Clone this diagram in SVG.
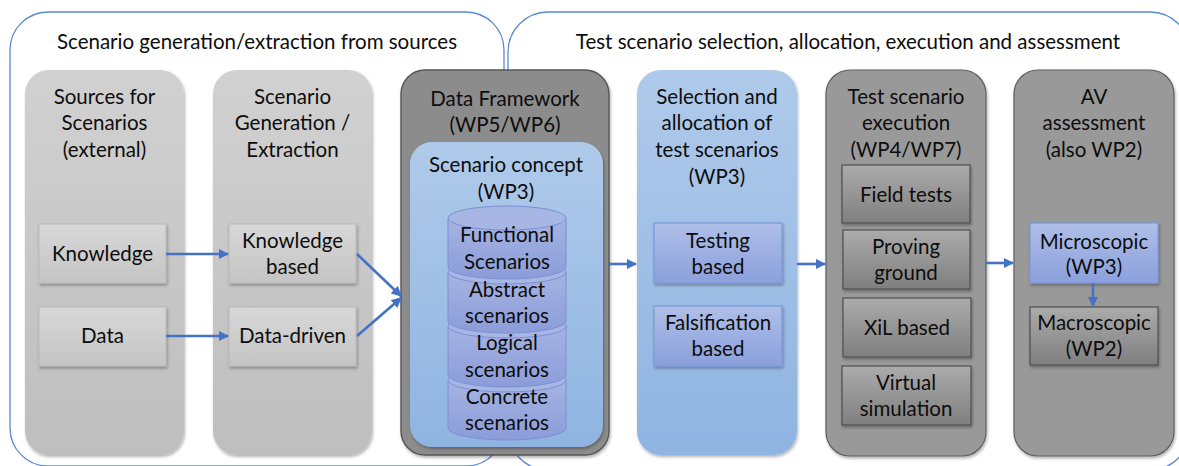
<svg xmlns="http://www.w3.org/2000/svg" width="1179" height="466" viewBox="0 0 1179 466">
<defs>
<linearGradient id="gLightCol" x1="0" y1="0" x2="0" y2="1"><stop offset="0" stop-color="#d1d1d1"/><stop offset="1" stop-color="#bebebe"/></linearGradient>
<linearGradient id="gLightBox" x1="0" y1="0" x2="0" y2="1"><stop offset="0" stop-color="#d8d8d8"/><stop offset="1" stop-color="#c4c4c4"/></linearGradient>
<linearGradient id="gDarkBox" x1="0" y1="0" x2="0" y2="1"><stop offset="0" stop-color="#ababab"/><stop offset="1" stop-color="#7f7f7f"/></linearGradient>
<linearGradient id="gBlueCol" x1="0" y1="0" x2="0" y2="1"><stop offset="0" stop-color="#afcaea"/><stop offset="1" stop-color="#8fb4e1"/></linearGradient>
<linearGradient id="gBlueBox" x1="0" y1="0" x2="0" y2="1"><stop offset="0" stop-color="#afbfe8"/><stop offset="1" stop-color="#8ba0dc"/></linearGradient>
<linearGradient id="gCyl" x1="0" y1="0" x2="0" y2="1"><stop offset="0" stop-color="#a6b4e2"/><stop offset="1" stop-color="#8b9cd9"/></linearGradient>
<filter id="sh" x="-10%" y="-10%" width="120%" height="120%"><feDropShadow dx="1" dy="2" stdDeviation="1.5" flood-color="#000" flood-opacity="0.3"/></filter>
<marker id="ah" viewBox="0 0 10 10" refX="9" refY="5" markerWidth="4" markerHeight="4" orient="auto" markerUnits="strokeWidth"><path d="M0,0 L10,5 L0,10 Z" fill="#4472c4"/></marker>
<style>
text{font-family:Lato,"Open Sans","Liberation Sans",sans-serif;font-size:20.5px;fill:#0d0d0d;text-anchor:middle}
.outer{fill:none;stroke:#5b8ad0;stroke-width:1.3}
.lcol{fill:url(#gLightCol);filter:url(#sh)}
.lbox{fill:url(#gLightBox);stroke:#bababa;stroke-width:1;filter:url(#sh)}
.dcol{fill:#999999;stroke:#5e5e5e;stroke-width:1.2;filter:url(#sh)}
.dbox{fill:url(#gDarkBox);stroke:#4f4f4f;stroke-width:1.2;filter:url(#sh)}
.bcol{fill:url(#gBlueCol);filter:url(#sh)}
.bbox{fill:url(#gBlueBox);stroke:#7a98dc;stroke-width:1.2;filter:url(#sh)}
.cyl{fill:url(#gCyl);stroke:#7b90d6;stroke-width:1}
.cyltop{fill:#a7b6e3;stroke:#7b90d6;stroke-width:1}
.conn{fill:none;stroke:#4472c4;stroke-width:2.6;marker-end:url(#ah)}
</style>
</defs>
<rect width="1179" height="466" fill="#ffffff"/>

<g id="group-left">
<rect class="outer" x="10" y="12" width="494" height="454" rx="38" ry="38"/>
<text x="257" y="49">Scenario generation/extraction from sources</text>
</g>
<g id="group-right">
<rect class="outer" x="508" y="12" width="682" height="458" rx="40" ry="40"/>
<text x="848" y="49">Test scenario selection, allocation, execution and assessment</text>
</g>

<g id="col-sources">
<rect class="lcol" x="25" y="70" width="159" height="385" rx="24" ry="24"/>
<text x="104.5" y="104">Sources for</text>
<text x="104.5" y="130">Scenarios</text>
<text x="104.5" y="157">(external)</text>
</g>
<g id="col-generation">
<rect class="lcol" x="213" y="70" width="159" height="385" rx="24" ry="24"/>
<text x="292.5" y="104">Scenario</text>
<text x="292.5" y="130">Generation /</text>
<text x="292.5" y="157">Extraction</text>
</g>
<g id="col-framework">
<rect x="401" y="70" width="208" height="385" rx="24" ry="24" fill="#8c8c8c" stroke="#555555" stroke-width="1.4" filter="url(#sh)"/>
<text x="505" y="106">Data Framework</text>
<text x="505" y="132">(WP5/WP6)</text>
</g>
<g id="col-concept">
<rect class="bcol" x="410" y="142" width="193" height="305" rx="22" ry="22"/>
<text x="506" y="172">Scenario concept</text>
<text x="506" y="199">(WP3)</text>
</g>
<g id="cyl-concrete">
<path class="cyl" d="M448,380 V428 A59,12 0 0 0 566,428 V380 Z"/>
<ellipse class="cyltop" cx="507" cy="380" rx="59" ry="12"/>
<text x="507" y="404">Concrete</text>
<text x="507" y="430">scenarios</text>
</g>
<g id="cyl-logical">
<path class="cyl" d="M448,326 V375 A59,12 0 0 0 566,375 V326 Z"/>
<ellipse class="cyltop" cx="507" cy="326" rx="59" ry="12"/>
<text x="507" y="350">Logical</text>
<text x="507" y="377">scenarios</text>
</g>
<g id="cyl-abstract">
<path class="cyl" d="M448,272 V321 A59,12 0 0 0 566,321 V272 Z"/>
<ellipse class="cyltop" cx="507" cy="272" rx="59" ry="12"/>
<text x="507" y="297">Abstract</text>
<text x="507" y="323">scenarios</text>
</g>
<g id="cyl-functional">
<path class="cyl" d="M448,218 V267 A59,12 0 0 0 566,267 V218 Z"/>
<ellipse class="cyltop" cx="507" cy="218" rx="59" ry="12"/>
<text x="507" y="242">Functional</text>
<text x="507" y="269">Scenarios</text>
</g>
<g id="col-selection">
<rect class="bcol" x="637" y="70" width="160" height="385" rx="24" ry="24"/>
<text x="717" y="104">Selection and</text>
<text x="717" y="130">allocation of</text>
<text x="717" y="157">test scenarios</text>
<text x="717" y="184">(WP3)</text>
</g>
<g id="col-execution">
<rect class="dcol" x="826" y="70" width="160" height="386" rx="24" ry="24"/>
<text x="906" y="104">Test scenario</text>
<text x="906" y="130">execution</text>
<text x="906" y="157">(WP4/WP7)</text>
</g>
<g id="col-assessment">
<rect class="dcol" x="1014" y="70" width="160" height="386" rx="24" ry="24"/>
<text x="1094" y="104">AV</text>
<text x="1094" y="130">assessment</text>
<text x="1094" y="157">(also WP2)</text>
</g>

<g id="box-knowledge">
<rect class="lbox" x="39" y="224" width="127" height="59"/>
<text x="102.5" y="261">Knowledge</text>
</g>
<g id="box-data">
<rect class="lbox" x="39" y="307" width="127" height="59"/>
<text x="102.5" y="343">Data</text>
</g>
<g id="box-knowledge-based">
<rect class="lbox" x="229" y="224" width="127" height="59"/>
<text x="292.5" y="248">Knowledge</text>
<text x="292.5" y="274">based</text>
</g>
<g id="box-data-driven">
<rect class="lbox" x="229" y="307" width="127" height="59"/>
<text x="292.5" y="343">Data-driven</text>
</g>
<g id="box-testing">
<rect class="bbox" x="654" y="223" width="128" height="60"/>
<text x="718" y="248">Testing</text>
<text x="718" y="274">based</text>
</g>
<g id="box-falsification">
<rect class="bbox" x="654" y="306" width="128" height="60"/>
<text x="718" y="330">Falsification</text>
<text x="718" y="356">based</text>
</g>
<g id="box-field">
<rect class="dbox" x="842" y="165" width="128" height="58"/>
<text x="906" y="202">Field tests</text>
</g>
<g id="box-proving">
<rect class="dbox" x="843" y="230" width="127" height="59"/>
<text x="906" y="254">Proving</text>
<text x="906" y="280">ground</text>
</g>
<g id="box-xil">
<rect class="dbox" x="843" y="298" width="128" height="59"/>
<text x="907" y="335">XiL based</text>
</g>
<g id="box-virtual">
<rect class="dbox" x="842" y="366" width="129" height="59"/>
<text x="906" y="390">Virtual</text>
<text x="906" y="416">simulation</text>
</g>
<g id="box-micro">
<rect x="1030" y="223" width="128" height="60" fill="url(#gBlueBox)" stroke="#7a98dc" stroke-width="1.2" filter="url(#sh)"/>
<text x="1094" y="249">Microscopic</text>
<text x="1094" y="274">(WP3)</text>
</g>
<g id="box-macro">
<rect class="dbox" x="1030" y="307" width="128" height="58"/>
<text x="1094" y="330">Macroscopic</text>
<text x="1094" y="356">(WP2)</text>
</g>

<g id="connectors">
<line class="conn" x1="166" y1="254" x2="228" y2="254"/>
<line class="conn" x1="166" y1="336" x2="228" y2="336"/>
<line class="conn" x1="357" y1="254" x2="401" y2="296"/>
<line class="conn" x1="357" y1="336" x2="401" y2="298"/>
<line class="conn" x1="609" y1="264" x2="636" y2="264"/>
<line class="conn" x1="797" y1="264" x2="825" y2="264"/>
<line class="conn" x1="986" y1="263" x2="1013" y2="263"/>
<line class="conn" x1="1093" y1="283" x2="1093" y2="306"/>
</g>
</svg>
